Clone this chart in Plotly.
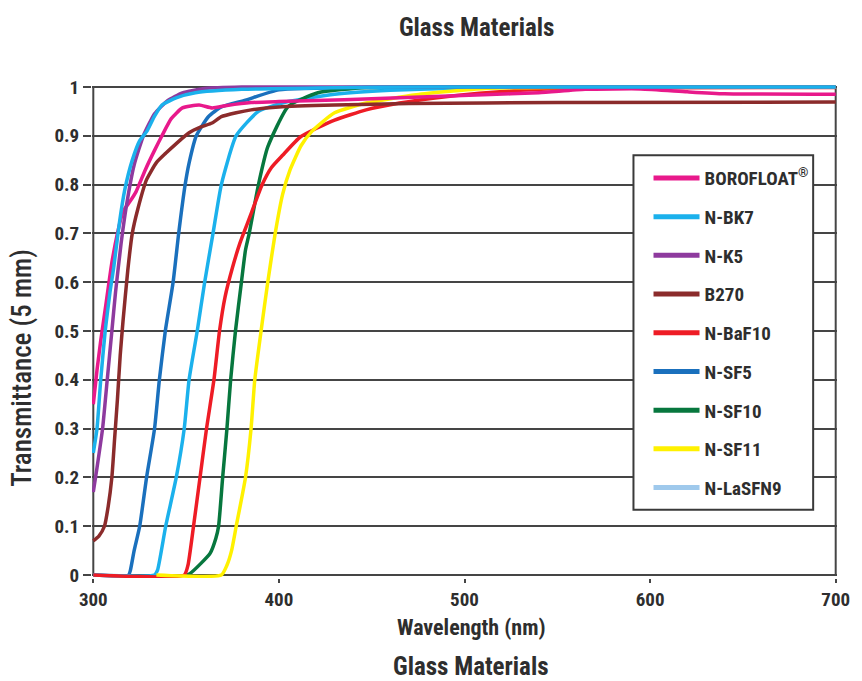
import plotly.graph_objects as go

# ---- data (wavelength nm, transmittance) ----
names = ["BOROFLOAT<sup>®</sup>", "N-BK7", "N-K5", "B270", "N-BaF10", "N-SF5", "N-SF10", "N-SF11", "N-LaSFN9"]
legend_colors = ["#E8198B", "#1BB1EC", "#8E3A9E", "#8B2B2B", "#EE1C25", "#1A70BD", "#07773E", "#FFF100", "#9FC9EC"]
curve_colors = ["#E8198B", "#1BB1EC", "#8E3A9E", "#8B2B2B", "#EE1C25", "#1A70BD", "#07773E", "#FFF100", "#1BB1EC"]

borofloat_wl = [300, 302, 304, 307, 310, 313, 316, 319.7, 323, 328, 333, 337, 342, 348, 357, 364, 372, 385, 400, 420, 450, 480, 510, 540, 565, 595, 620, 640, 700]
borofloat_t = [0.35, 0.42, 0.48, 0.56, 0.64, 0.70, 0.745, 0.765, 0.785, 0.83, 0.87, 0.90, 0.935, 0.957, 0.963, 0.957, 0.962, 0.968, 0.970, 0.972, 0.976, 0.980, 0.984, 0.988, 0.995, 0.996, 0.990, 0.986, 0.985]

nbk7_wl = [300, 302, 304, 306.4, 309, 311, 314, 317, 321, 325, 329, 333, 337, 345, 355, 380, 420, 480, 700]
nbk7_t = [0.25, 0.30, 0.40, 0.50, 0.58, 0.63, 0.72, 0.79, 0.85, 0.89, 0.91, 0.94, 0.963, 0.978, 0.988, 0.995, 0.998, 1.0, 1.0]

nk5_wl = [300, 302, 305, 307.5, 310, 312, 315, 318, 322, 327, 333, 340, 348, 360, 380, 700]
nk5_t = [0.17, 0.22, 0.30, 0.40, 0.50, 0.58, 0.68, 0.76, 0.84, 0.90, 0.945, 0.972, 0.988, 0.997, 1.0, 1.0]

b270_wl = [300, 303, 306, 308, 310, 311.5, 313, 314.5, 316, 318.6, 321, 324, 328.7, 334, 339, 345, 351.6, 358, 364, 369, 377, 385, 400, 430, 470, 550, 700]
b270_t = [0.07, 0.08, 0.10, 0.14, 0.20, 0.28, 0.36, 0.45, 0.52, 0.625, 0.70, 0.75, 0.81, 0.845, 0.864, 0.885, 0.906, 0.918, 0.926, 0.939, 0.947, 0.953, 0.959, 0.963, 0.966, 0.968, 0.969]

nbaf10_wl = [300, 349, 351, 354, 357.5, 361, 365, 368, 371, 375, 379, 384, 391, 396, 402, 411.7, 430, 447, 465, 483, 508, 530, 560, 700]
nbaf10_t = [0.0, 0.0, 0.02, 0.10, 0.20, 0.30, 0.40, 0.50, 0.57, 0.63, 0.68, 0.73, 0.80, 0.835, 0.86, 0.898, 0.932, 0.953, 0.967, 0.977, 0.987, 0.993, 0.998, 0.999]

nsf5_wl = [300, 319, 320, 322, 325, 328.7, 333, 335.6, 338.8, 343, 346, 349.5, 351.6, 355.5, 362, 369, 382, 400, 450, 700]
nsf5_t = [0.0, 0.0, 0.01, 0.05, 0.10, 0.20, 0.30, 0.40, 0.50, 0.60, 0.70, 0.80, 0.844, 0.90, 0.939, 0.959, 0.973, 0.994, 0.999, 1.0]

nsf10_wl = [350, 352, 358, 363, 366, 367.5, 369.7, 372, 374, 376.6, 379.8, 382, 384, 389, 394, 405, 421, 447, 500, 700]
nsf10_t = [0.0, 0.003, 0.024, 0.045, 0.075, 0.10, 0.20, 0.30, 0.40, 0.50, 0.60, 0.666, 0.70, 0.80, 0.877, 0.96, 0.988, 0.999, 1.0, 1.0]

nsf11_wl = [334, 369, 372, 374.5, 377, 382, 385, 387, 390.4, 394, 398, 402, 406, 412, 418, 430, 447, 474, 511, 550, 700]
nsf11_t = [0.0, 0.0, 0.02, 0.05, 0.10, 0.20, 0.30, 0.40, 0.50, 0.60, 0.70, 0.78, 0.83, 0.88, 0.91, 0.947, 0.967, 0.984, 0.997, 0.999, 1.0]

nlasfn9_wl = [300, 333, 334.6, 339, 344.7, 349, 351.6, 356, 360, 364.5, 369, 377, 389, 405, 430, 460, 500, 550, 700]
nlasfn9_t = [0.0, 0.0, 0.01, 0.10, 0.20, 0.30, 0.40, 0.50, 0.60, 0.70, 0.80, 0.90, 0.95, 0.97, 0.985, 0.993, 0.998, 1.0, 1.0]

series = {
    "BOROFLOAT<sup>®</sup>": (borofloat_wl, borofloat_t),
    "N-BK7": (nbk7_wl, nbk7_t),
    "N-K5": (nk5_wl, nk5_t),
    "B270": (b270_wl, b270_t),
    "N-BaF10": (nbaf10_wl, nbaf10_t),
    "N-SF5": (nsf5_wl, nsf5_t),
    "N-SF10": (nsf10_wl, nsf10_t),
    "N-SF11": (nsf11_wl, nsf11_t),
    "N-LaSFN9": (nlasfn9_wl, nlasfn9_t),
}
draw_order = ["N-SF5", "N-LaSFN9", "N-SF10", "N-BaF10", "N-SF11", "B270", "BOROFLOAT<sup>®</sup>", "N-K5", "N-BK7"]

x_ticks = [300, 400, 500, 600, 700]
y_ticks = [0, 0.1, 0.2, 0.3, 0.4, 0.5, 0.6, 0.7, 0.8, 0.9, 1]
y_tick_text = ["0", "0.1", "0.2", "0.3", "0.4", "0.5", "0.6", "0.7", "0.8", "0.9", "1"]

FONT = "Roboto Condensed, Roboto, sans-serif"
TXT = "#2e2e2e"
GRID = "#454545"

fig = go.Figure()

# legend entries (in legend order)
for i, n in enumerate(names):
    fig.add_trace(go.Scatter(x=[None], y=[None], mode="lines", name="<b>" + n + "</b>",
                             line=dict(color=legend_colors[i], width=5),
                             legendgroup=str(i), showlegend=True, hoverinfo="skip"))

# curves
for n in draw_order:
    wl, t = series[n]
    c = curve_colors[names.index(n)]
    fig.add_trace(go.Scatter(x=wl, y=t, mode="lines", name=n, showlegend=False,
                             line=dict(color=c, width=3.5, shape="spline", smoothing=0.5)))

# frame verticals
fig.add_shape(type="line", xref="x", yref="y", x0=300, x1=300, y0=0, y1=1,
              line=dict(color=GRID, width=2), layer="below")
fig.add_shape(type="line", xref="x", yref="y", x0=700, x1=700, y0=0, y1=1,
              line=dict(color=GRID, width=2), layer="below")
# legend box
fig.add_shape(type="rect", xref="paper", yref="paper", x0=0.7268, x1=0.968, y0=0.138, y1=0.856,
              line=dict(color="#3a3a3a", width=2), fillcolor="white", layer="above")

fig.update_layout(
    width=862, height=681,
    paper_bgcolor="white", plot_bgcolor="white",
    margin=dict(l=92, r=16, t=84, b=103),
    font=dict(family=FONT, color=TXT),
    title=dict(text="<b>Glass Materials</b>", x=0.553, xanchor="center", y=0.96, yanchor="middle",
               font=dict(size=25, family=FONT, color=TXT)),
    xaxis=dict(range=[299.3, 700.7], tickvals=x_ticks, ticktext=[f"<b>{v}</b>" for v in x_ticks],
               showgrid=False, zeroline=False, showline=False,
               ticks="outside", ticklen=4, tickwidth=2, tickcolor=GRID,
               tickfont=dict(size=19, family=FONT, color=TXT)),
    yaxis=dict(range=[-0.006, 1.006], tickvals=y_ticks, ticktext=[f"<b>{t}</b>" for t in y_tick_text],
               showgrid=True, gridcolor=GRID, gridwidth=2, zeroline=False, showline=False,
               ticks="outside", ticklen=8, tickwidth=2, tickcolor=GRID,
               tickfont=dict(size=19, family=FONT, color=TXT)),
    legend=dict(x=0.747, y=0.848, xanchor="left", yanchor="top",
                borderwidth=0, bgcolor="rgba(0,0,0,0)",
                font=dict(size=19, family=FONT, color=TXT),
                traceorder="grouped", tracegroupgap=11, itemwidth=46),
    annotations=[
        dict(text="Transmittance (5 mm)", xref="paper", yref="paper", x=-0.095, y=0.426,
             textangle=-90, showarrow=False, xanchor="center", yanchor="middle",
             font=dict(size=27, family=FONT, color=TXT, weight=500)),
        dict(text="<b>Wavelength (nm)</b>", xref="paper", yref="paper", x=0.51, y=-0.101,
             showarrow=False, xanchor="center", yanchor="middle",
             font=dict(size=22, family=FONT, color=TXT)),
        dict(text="<b>Glass Materials</b>", xref="paper", yref="paper", x=0.509, y=-0.18,
             showarrow=False, xanchor="center", yanchor="middle",
             font=dict(size=25, family=FONT, color=TXT)),
    ],
)

fig.write_html("out.html")
